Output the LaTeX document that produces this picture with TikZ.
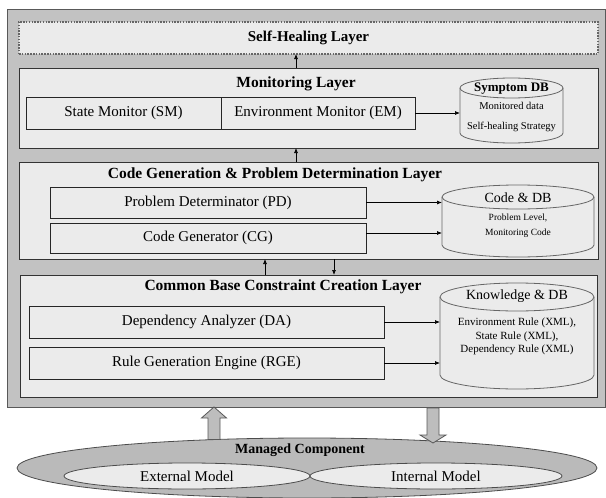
\documentclass[tikz,border=0pt]{standalone}
\usepackage{fontspec}
\setmainfont{Liberation Serif}
\usetikzlibrary{arrows.meta,shapes.geometric,calc}

\begin{document}
\begin{tikzpicture}[x=1pt,y=1pt,
  every node/.style={inner sep=0pt, outer sep=0pt},
  frame/.style={draw=black!65, fill=black!24, line width=1pt, anchor=north west},
  layer/.style={draw=black!80, fill=black!8, line width=0.8pt, anchor=north west},
  healbox/.style={draw=black!60, fill=black!8, line width=1.5pt, dash pattern=on 1.5pt off 1.3pt, anchor=north west},
  module/.style={draw=black!85, fill=black!8, line width=0.8pt, anchor=north west,
    font=\fontsize{15}{18}\selectfont},
  title/.style={font=\bfseries\fontsize{15.5}{18}\selectfont},
  dbhead/.style={font=\fontsize{14}{16}\selectfont},
  dbtext/.style={font=\fontsize{10.5}{12}\selectfont},
  dbbody/.style={draw=black!60, fill=black!8, line width=0.8pt},
  flow/.style={-{Latex[length=5pt,width=4pt]}, line width=0.7pt},
  bigarrow/.style={draw=black!65, fill=black!26, line width=0.8pt},
  oval/.style={ellipse, draw=black!70, line width=0.8pt},
]
\useasboundingbox (0,0) rectangle (606,-498);

% outer container
\node[frame, minimum width=598, minimum height=398] (frame) at (7,-9) {};

% self-healing layer
\node[healbox, minimum width=579, minimum height=32] (heal) at (19,-22) {};
\node[title, font=\bfseries\fontsize{15}{18}\selectfont] (healT) at (heal.center) {Self-Healing Layer};

% monitoring layer
\node[layer, minimum width=579, minimum height=80] (mon) at (19,-68) {};
\node[title] (monT) at (296,-84) {Monitoring Layer};
\node[module, minimum width=195, minimum height=32] (sm) at (26,-97) {State Monitor (SM)};
\node[module, minimum width=194, minimum height=32] (em) at (221,-97) {Environment Monitor (EM)};

% symptom store
\path[dbbody] (460,-88) -- (460,-133) arc[start angle=180,end angle=360,x radius=51.5,y radius=10]
  -- (563,-88) arc[start angle=0,end angle=180,x radius=51.5,y radius=10] -- cycle;
\draw[dbbody, fill=none] (460,-88) arc[start angle=180,end angle=360,x radius=51.5,y radius=10];
\node[minimum width=103, minimum height=65] (sdb) at (511.5,-110.5) {};
\node[font=\bfseries\fontsize{13}{15}\selectfont] (sdbT) at (511.5,-89) {Symptom DB};
\node[dbtext] (sdb1) at (511.5,-106) {Monitored data};
\node[dbtext] (sdb2) at (511.5,-127) {Self-healing Strategy};
\draw[flow] (em.east) -- (em.east -| sdb.west);
\draw[flow] (monT.north |- mon.north) -- (monT.north |- heal.south);

% code generation & problem determination layer
\node[layer, minimum width=579, minimum height=97] (cgl) at (19,-162) {};
\draw[flow] (monT.north |- cgl.north) -- (monT.north |- mon.south);
\node[title] (cglT) at (275,-175) {Code Generation \& Problem Determination Layer};
\node[module, minimum width=316, minimum height=31] (pd) at (50,-187) {Problem Determinator (PD)};
\node[module, minimum width=316, minimum height=30] (cgen) at (50,-223) {Code Generator (CG)};

% code store
\path[dbbody] (442,-197) -- (442,-245) arc[start angle=180,end angle=360,x radius=76,y radius=12]
  -- (594,-197) arc[start angle=0,end angle=180,x radius=76,y radius=12] -- cycle;
\draw[dbbody, fill=none] (442,-197) arc[start angle=180,end angle=360,x radius=76,y radius=12];
\node[minimum width=152, minimum height=72] (cdb) at (518,-221) {};
\node[dbhead] (cdbT) at (518,-198) {Code \& DB};
\node[dbtext, font=\fontsize{9.5}{11}\selectfont] (cdb1) at (518,-218) {Problem Level,};
\node[dbtext, font=\fontsize{9.5}{11}\selectfont] (cdb2) at (518,-233) {Monitoring Code};
\draw[flow] (pd.east) -- (pd.east -| cdb.west);
\draw[flow] ($(cgen.east)+(0,5)$) -- ($(cgen.east -| cdb.west)+(0,5)$);

% common base constraint creation layer
\node[layer, minimum width=577, minimum height=122] (cbl) at (20,-275) {};
\coordinate (upx) at (265,0);
\coordinate (dnx) at (334,0);
\draw[flow] (upx |- cbl.north) -- (upx |- cgl.south);
\draw[flow] (dnx |- cgl.south) -- (dnx |- cbl.north);
\node[title] (cblT) at (283,-287) {Common Base Constraint Creation Layer};
\node[module, minimum width=355, minimum height=32] (da) at (29,-306) {Dependency Analyzer (DA)};
\node[module, minimum width=355, minimum height=32] (rge) at (29,-347) {Rule Generation Engine (RGE)};

% knowledge store
\path[dbbody] (440,-297) -- (440,-375) arc[start angle=180,end angle=360,x radius=77,y radius=14]
  -- (594,-297) arc[start angle=0,end angle=180,x radius=77,y radius=14] -- cycle;
\draw[dbbody, fill=none] (440,-297) arc[start angle=180,end angle=360,x radius=77,y radius=14];
\node[minimum width=154, minimum height=106] (kdb) at (517,-336) {};
\node[dbhead] (kdbT) at (517,-296) {Knowledge \& DB};
\node[dbtext, font=\fontsize{11}{13}\selectfont] (kdb1) at (517,-323) {Environment Rule (XML),};
\node[dbtext, font=\fontsize{11}{13}\selectfont] (kdb2) at (517,-337) {State Rule (XML),};
\node[dbtext, font=\fontsize{11}{13}\selectfont] (kdb3) at (517,-350) {Dependency Rule (XML)};
\draw[flow] (da.east) -- (da.east -| kdb.west);
\draw[flow] (rge.east) -- (rge.east -| kdb.west);

% managed component
\node[oval, fill=black!27, minimum width=580, minimum height=60] (mc) at (307,-468) {};
\node[title, font=\bfseries\fontsize{14}{16}\selectfont] (mcT) at (300,-450) {Managed Component};
\node[oval, fill=black!8, minimum width=246, minimum height=26, font=\fontsize{15}{18}\selectfont] (ext) at (187,-476) {External Model};
\node[oval, fill=black!8, minimum width=252, minimum height=26, font=\fontsize{15}{18}\selectfont] (int) at (436,-476) {Internal Model};

% block arrows between the component and the container
\path[bigarrow] (208,-439.5) -- (208,-418) -- (201.5,-418) -- (214,-407) -- (226.5,-418)
  -- (220,-418) -- (220,-439.5) -- cycle;
\path[bigarrow] (427,-408) -- (439,-408) -- (439,-435) -- (446,-435) -- (433,-443)
  -- (420,-435) -- (427,-435) -- cycle;
\end{tikzpicture}
\end{document}
